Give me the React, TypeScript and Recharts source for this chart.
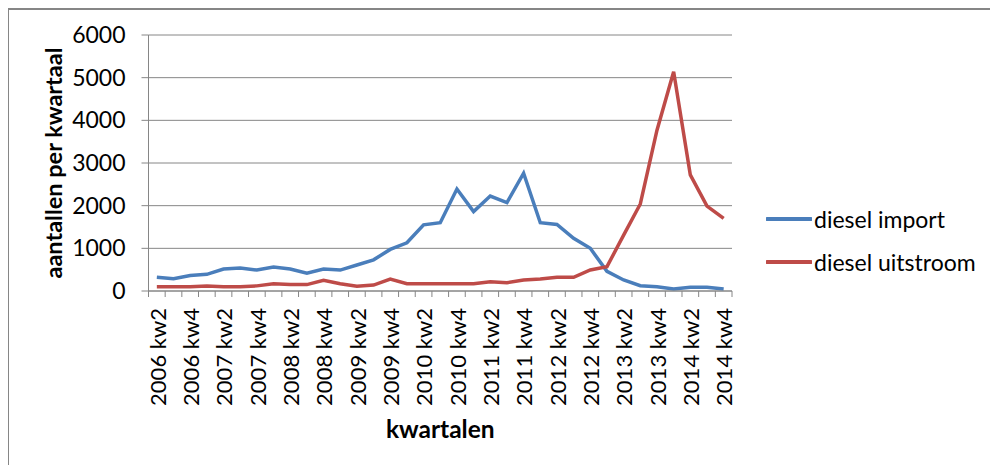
import React from "react";
import { LineChart, Line, XAxis, YAxis, CartesianGrid } from "recharts";

const quarters = [
  "2006 kw2", "2006 kw3", "2006 kw4",
  "2007 kw1", "2007 kw2", "2007 kw3", "2007 kw4",
  "2008 kw1", "2008 kw2", "2008 kw3", "2008 kw4",
  "2009 kw1", "2009 kw2", "2009 kw3", "2009 kw4",
  "2010 kw1", "2010 kw2", "2010 kw3", "2010 kw4",
  "2011 kw1", "2011 kw2", "2011 kw3", "2011 kw4",
  "2012 kw1", "2012 kw2", "2012 kw3", "2012 kw4",
  "2013 kw1", "2013 kw2", "2013 kw3", "2013 kw4",
  "2014 kw1", "2014 kw2", "2014 kw3", "2014 kw4",
];

const dieselImport = [
  320, 290, 365, 390, 515, 540, 490, 560, 515, 415, 515, 490, 610, 730, 975,
  1130, 1550, 1600, 2390, 1860, 2225, 2070, 2760, 1600, 1560, 1235, 1000, 460,
  258, 125, 100, 47, 86, 86, 47,
];

const dieselUitstroom = [
  100, 100, 100, 120, 100, 100, 120, 170, 150, 150, 250, 170, 110, 140, 280,
  170, 170, 172, 172, 172, 219, 195, 258, 281, 320, 320, 492, 570, 1310, 2040,
  3770, 5140, 2720, 1990, 1700,
];

const yTicks = [0, 1000, 2000, 3000, 4000, 5000, 6000];

const series = [
  { key: "import", name: "diesel import", color: "#4A7EBB" },
  { key: "uitstroom", name: "diesel uitstroom", color: "#BE4B48" },
];

const data = quarters.map((q, i) => ({
  quarter: q,
  import: dieselImport[i],
  uitstroom: dieselUitstroom[i],
}));

const FONT = "Lato, 'Open Sans', sans-serif";
const AXIS_GRAY = "#868686";
const PLOT_LEFT = 148.5;
const PLOT_RIGHT = 732;
const HALF_STEP = (PLOT_RIGHT - PLOT_LEFT) / quarters.length / 2;

const QuarterTick = (props: any) => {
  const { x, y, index, payload } = props;
  const last = index === quarters.length - 1;
  return (
    <g>
      <line x1={x - HALF_STEP} x2={x - HALF_STEP} y1={y} y2={y + 6} stroke={AXIS_GRAY} />
      {last && (
        <line x1={x + HALF_STEP} x2={x + HALF_STEP} y1={y} y2={y + 6} stroke={AXIS_GRAY} />
      )}
      {index % 2 === 0 && (
        <text
          x={x + 1}
          y={y + 17}
          transform={`rotate(-90, ${x + 1}, ${y + 17})`}
          textAnchor="end"
          dy="0.35em"
          fontSize={22}
          fontFamily={FONT}
          fill="#000"
        >
          {payload.value}
        </text>
      )}
    </g>
  );
};

const LegendBox = () => (
  <div
    style={{
      position: "absolute",
      left: 757,
      top: 187,
      fontFamily: FONT,
      fontSize: 23,
      color: "#000",
    }}
  >
    {series.map((s) => (
      <div key={s.key} style={{ display: "flex", alignItems: "center", height: 43 }}>
        <svg width={46} height={8} style={{ marginRight: 2 }}>
          <line x1={1} x2={45} y1={4} y2={4} stroke={s.color} strokeWidth={4} strokeLinecap="round" />
        </svg>
        <span>{s.name}</span>
      </div>
    ))}
  </div>
);

export default function App() {
  return (
    <div
      style={{
        position: "relative",
        boxSizing: "border-box",
        width: 992,
        height: 470,
        marginLeft: -1,
        border: `2px solid ${AXIS_GRAY}`,
      }}
    >
      <div style={{ position: "absolute", left: -9, top: -10 }}>
        <LineChart
          width={998}
          height={465}
          data={data}
          margin={{ top: 35, right: 998 - PLOT_RIGHT, left: 0, bottom: 0 }}
        >
          <CartesianGrid vertical={false} stroke={AXIS_GRAY} strokeWidth={1} />
          <XAxis
            dataKey="quarter"
            interval={0}
            height={174}
            padding={{ left: HALF_STEP, right: HALF_STEP }}
            stroke={AXIS_GRAY}
            tickLine={false}
            tickSize={0}
            tickMargin={0}
            tick={<QuarterTick />}
            label={{
              value: "kwartalen",
              position: "insideBottom",
              offset: 27,
              style: { fontFamily: FONT, fontSize: 24.5, fontWeight: 700, fill: "#000" },
            }}
          />
          <YAxis
            width={PLOT_LEFT}
            domain={[0, 6000]}
            ticks={yTicks}
            interval={0}
            stroke={AXIS_GRAY}
            tickSize={7}
            tickMargin={16}
            tick={{ fontFamily: FONT, fontSize: 23, fill: "#000" }}
            label={{
              value: "aantallen per kwartaal",
              angle: -90,
              position: "insideLeft",
              offset: 54,
              style: { textAnchor: "middle", fontFamily: FONT, fontSize: 23.5, fontWeight: 700, fill: "#000" },
            }}
          />
          {series.map((s) => (
            <Line
              key={s.key}
              type="linear"
              dataKey={s.key}
              name={s.name}
              stroke={s.color}
              strokeWidth={3.5}
              dot={false}
              isAnimationActive={false}
            />
          ))}
        </LineChart>
      </div>
      <LegendBox />
    </div>
  );
}
